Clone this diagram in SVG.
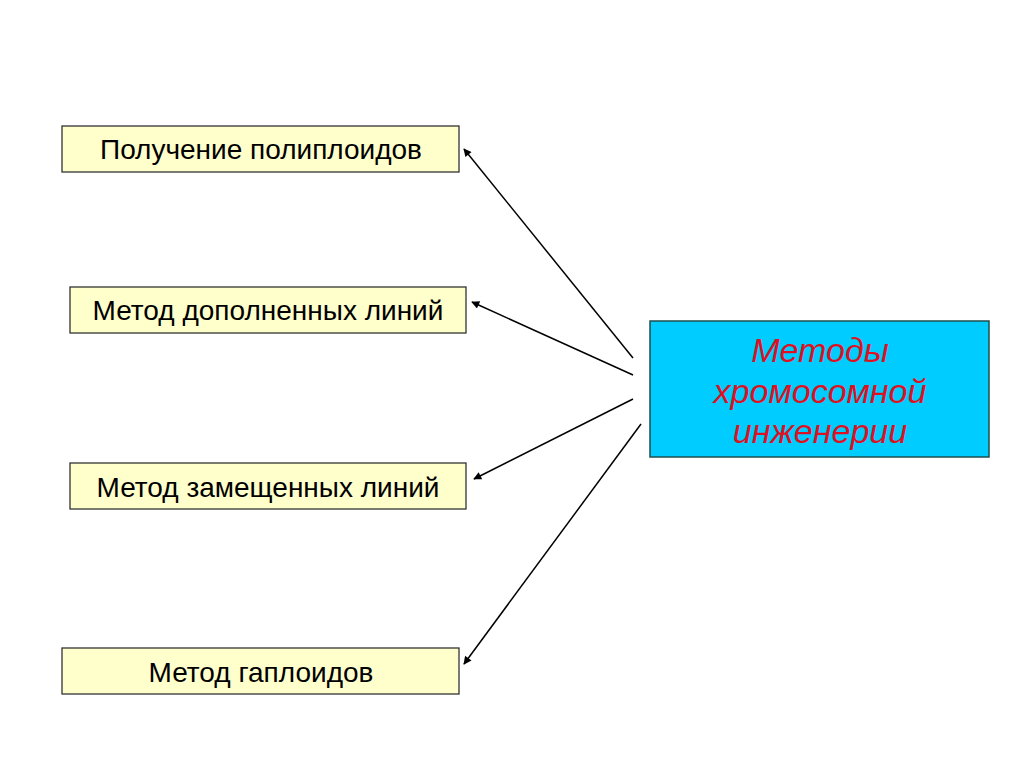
<svg xmlns="http://www.w3.org/2000/svg" width="1024" height="767" viewBox="0 0 1024 767">
<style>
.box{fill:#ffffcc;stroke:#333333;stroke-width:1.3}
.lbl{font-family:"Liberation Sans",Arial,sans-serif;font-size:28px;fill:#000;text-anchor:middle}
.main{fill:#00ccff;stroke:#1f4f4f;stroke-width:1.5}
.mt{font-family:"Liberation Sans",Arial,sans-serif;font-size:34px;font-style:italic;fill:#dd1122;text-anchor:middle}
.con{stroke:#000;stroke-width:1.5;fill:none;marker-end:url(#ah)}
</style>
<defs>
<marker id="ah" viewBox="0 0 10 10" refX="9" refY="5" markerWidth="11" markerHeight="8" markerUnits="userSpaceOnUse" orient="auto">
<path d="M0,0 L10,5 L0,10 z" fill="#000"/>
</marker>
</defs>
<rect x="0" y="0" width="1024" height="767" fill="#fff"/>
<g id="n1"><rect class="box" x="62" y="126" width="397" height="46"/><text class="lbl" x="261" y="159">Получение полиплоидов</text></g>
<g id="n2"><rect class="box" x="70" y="287" width="396" height="46"/><text class="lbl" x="268" y="320">Метод дополненных линий</text></g>
<g id="n3"><rect class="box" x="70" y="463" width="396" height="46"/><text class="lbl" x="268" y="497">Метод замещенных линий</text></g>
<g id="n4"><rect class="box" x="62" y="648" width="397" height="46"/><text class="lbl" x="261" y="682">Метод гаплоидов</text></g>
<g id="main"><rect class="main" x="650" y="321" width="339" height="136"/>
<text class="mt" x="820" y="362">Методы</text>
<text class="mt" x="820" y="403">хромосомной</text>
<text class="mt" x="820" y="443">инженерии</text></g>
<g id="connectors">
<line class="con" x1="633" y1="358" x2="464" y2="149"/>
<line class="con" x1="633" y1="375" x2="472" y2="302"/>
<line class="con" x1="633" y1="399" x2="474" y2="479"/>
<line class="con" x1="641" y1="424" x2="464" y2="664"/>
</g>
</svg>
